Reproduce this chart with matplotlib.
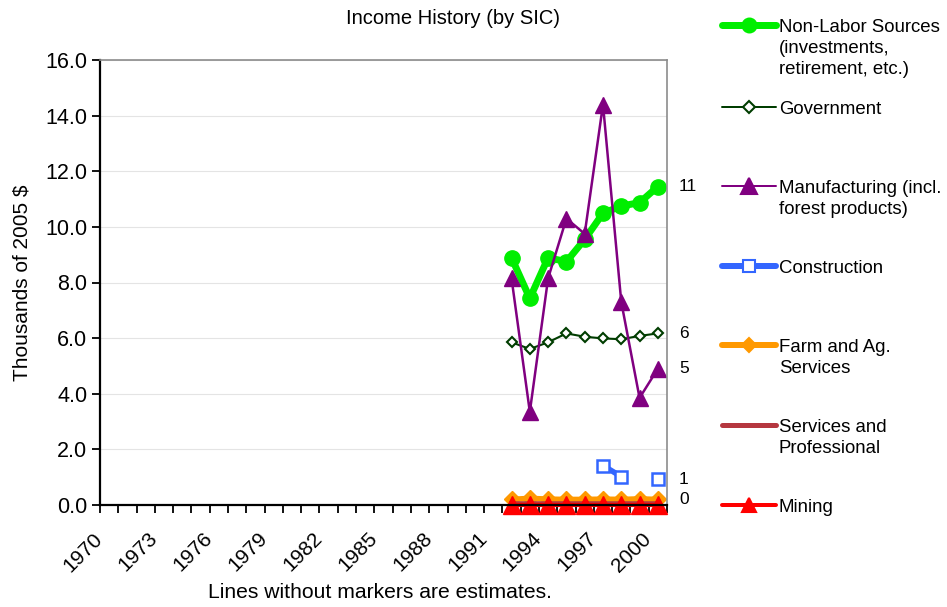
import matplotlib
import matplotlib.pyplot as plt
import numpy as np

matplotlib.use('Agg')
plt.rcParams['font.family'] = ['Liberation Sans', 'DejaVu Sans']

nan = np.nan
years = np.arange(1970, 2001)
data_years = [1992, 1993, 1994, 1995, 1996, 1997, 1998, 1999, 2000]

non_labor = [8.89, 7.43, 8.89, 8.75, 9.55, 10.49, 10.75, 10.87, 11.45]
government = [5.85, 5.61, 5.85, 6.17, 6.05, 5.99, 5.96, 6.08, 6.17]
manufacturing = [8.15, 3.35, 8.15, 10.3, 9.75, 14.4, 7.3, 3.85, 4.9]
construction = [nan, nan, nan, nan, nan, 1.42, 1.02, nan, 0.93]
farm = [0.2, 0.24, 0.21, 0.2, 0.2, 0.21, 0.2, 0.22, 0.2]
services = [0.05, 0.05, 0.05, 0.05, 0.05, 0.05, 0.05, 0.05, 0.05]
mining = [0.0, 0.0, 0.0, 0.0, 0.0, 0.0, 0.0, 0.0, 0.0]

legend_labels = [
    'Non-Labor Sources\n(investments,\nretirement, etc.)',
    'Government',
    'Manufacturing (incl.\nforest products)',
    'Construction',
    'Farm and Ag.\nServices',
    'Services and\nProfessional',
    'Mining',
]

# line style per series: (values, color, lw, marker, ms, filled, mew)
series = [
    (non_labor, '#00ee00', 5.0, 'o', 11, True, 1),
    (government, '#003d00', 1.5, 'D', 5.5, False, 1.5),
    (manufacturing, '#800080', 1.8, '^', 11, True, 1),
    (construction, '#3366ff', 4.0, 's', 9, False, 1.8),
    (farm, '#ff9900', 4.0, 'D', 8, True, 1),
    (services, '#b5373f', 4.0, None, 0, True, 1),
    (mining, '#ff0000', 3.0, '^', 13, True, 1),
]

fig = plt.figure(figsize=(9.47, 6.07), dpi=100)
ax = fig.add_axes([100 / 947, 1 - 505 / 607, 567 / 947, 445 / 607])

for vals, color, lw, marker, ms, filled, mew in series:
    ax.plot(data_years, vals, color=color, lw=lw, marker=marker, ms=ms,
            markerfacecolor=color if filled else 'white',
            markeredgecolor=color, markeredgewidth=mew, clip_on=False)

ax.set_xlim(1969.5, 2000.5)
ax.set_ylim(0, 16)
ax.set_yticks(np.arange(0, 17, 2))
ax.set_yticklabels(['%.1f' % v for v in np.arange(0, 17, 2)], fontsize=15.5)

# year labels every third category, set a little left of the category centre
ax.set_xticks([])
for yr in years[::3]:
    ax.annotate(str(yr), xy=(yr, 0), xycoords=('data', 'axes fraction'),
                xytext=(-16, -24), textcoords='offset pixels', rotation=45,
                ha='right', va='top', rotation_mode='anchor', fontsize=15,
                annotation_clip=False)
ax.set_xticks(np.arange(1969.5, 2001, 1), minor=True)
ax.tick_params(axis='x', which='minor', length=6, width=1.3, direction='out')
ax.tick_params(axis='y', length=6, width=1.3, direction='out', pad=3)
ax.grid(axis='y', color='#e4e4e4', lw=0.8)
ax.set_axisbelow(True)

for side in ['left', 'bottom']:
    ax.spines[side].set_color('black')
    ax.spines[side].set_linewidth(1.6)
for side in ['top', 'right']:
    ax.spines[side].set_color('#8c8c8c')
    ax.spines[side].set_linewidth(1.2)

ax.set_ylabel('Thousands of 2005 $', fontsize=15, labelpad=10)

# end-of-series value labels on the right
shown = set()
for vals, color, lw, marker, ms, filled, mew in series:
    last = [v for v in vals if not np.isnan(v)][-1]
    lab = '%d' % round(last)
    if lab in shown:
        continue
    shown.add(lab)
    ax.annotate(lab, xy=(1, last), xycoords=('axes fraction', 'data'),
                xytext=(12, 0), textcoords='offset pixels', va='center',
                fontsize=12.5)

fig.text(453 / 947, 1 - 18 / 607, 'Income History (by SIC)', ha='center',
         va='center', fontsize=14.5)
fig.text(380 / 947, 1 - 593 / 607, 'Lines without markers are estimates.',
         ha='center', va='center', fontsize=15.2)

# legend drawn in pixel coordinates
lax = fig.add_axes([0, 0, 1, 1])
lax.set_xlim(0, 947)
lax.set_ylim(607, 0)
lax.axis('off')
legend_y = [25, 107, 186, 266, 345, 425, 505]
legend_style = [
    (7, 'o', 10), (2, 'D', 6), (2, '^', 11), (6, 's', 9),
    (6, 'D', 7), (5, '_', 5), (4, '^', 10),
]
for (vals, color, lw, marker, ms, filled, mew), lab, y, (llw, lm, lms) in zip(
        series, legend_labels, legend_y, legend_style):
    lax.plot([722, 776], [y, y], color=color, lw=llw * 0.72,
             solid_capstyle='round')
    lax.plot([749], [y], marker=lm, ms=lms,
             markerfacecolor=color if filled else 'white',
             markeredgecolor=color, markeredgewidth=1.5)
    lax.text(779, y - 6, lab, ha='left', va='top', fontsize=13.4,
             linespacing=1.3)

fig.savefig('out.png', dpi=100)
